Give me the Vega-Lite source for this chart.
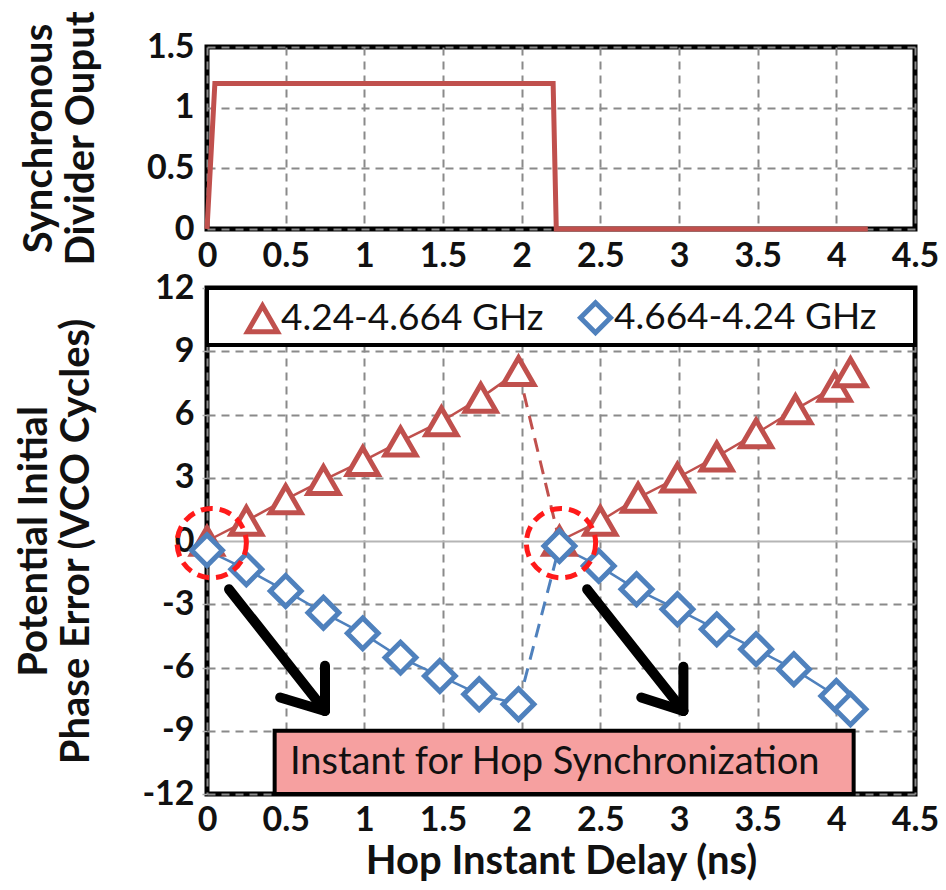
{
  "$schema": "https://vega.github.io/schema/vega-lite/v6.json",
  "background": "white",
  "padding": {"left": 12, "top": 8, "right": 10, "bottom": 5},
  "bounds": "flush",
  "spacing": 59,
  "config": {
    "font": "Lato",
    "view": {"stroke": "black", "strokeWidth": 5},
    "axis": {
      "labelFont": "Lato", "labelFontSize": 34, "labelFontWeight": "bold", "labelColor": "#111",
      "titleFont": "Lato", "titleFontSize": 40, "titleFontWeight": "bold", "titleColor": "#111",
      "domain": false, "gridColor": "#8a8a8a", "gridWidth": 2, "gridDash": [8, 6],
      "tickColor": "#aaa", "tickSize": 5, "tickWidth": 1.5, "labelFlush": false
    },
    "legend": {
      "orient": "none", "legendX": 37, "legendY": 252, "direction": "horizontal",
      "labelFont": "Lato", "labelFontSize": 37, "labelColor": "#111", "labelLimit": 0,
      "symbolSize": 900, "symbolStrokeWidth": 5, "symbolFillColor": "white",
      "columnPadding": 26, "labelOffset": 0
    }
  },
  "datasets": {
    "divider": [
      {"i": 0, "t": 0, "v": 0},
      {"i": 1, "t": 0.05, "v": 1.2},
      {"i": 2, "t": 2.2, "v": 1.2},
      {"i": 3, "t": 2.22, "v": 0},
      {"i": 4, "t": 4.2, "v": 0}
    ],
    "sweep": [
      {"series": "4.24-4.664 GHz", "seg": "first", "x": 0, "y": 0},
      {"series": "4.24-4.664 GHz", "seg": "first", "x": 0.25, "y": 0.95},
      {"series": "4.24-4.664 GHz", "seg": "first", "x": 0.5, "y": 1.97},
      {"series": "4.24-4.664 GHz", "seg": "first", "x": 0.74, "y": 2.89},
      {"series": "4.24-4.664 GHz", "seg": "first", "x": 0.99, "y": 3.79},
      {"series": "4.24-4.664 GHz", "seg": "first", "x": 1.23, "y": 4.71},
      {"series": "4.24-4.664 GHz", "seg": "first", "x": 1.49, "y": 5.67},
      {"series": "4.24-4.664 GHz", "seg": "first", "x": 1.74, "y": 6.79},
      {"series": "4.24-4.664 GHz", "seg": "first", "x": 1.98, "y": 8.06},
      {"series": "4.24-4.664 GHz", "seg": "second", "x": 2.24, "y": 0},
      {"series": "4.24-4.664 GHz", "seg": "second", "x": 2.5, "y": 0.95},
      {"series": "4.24-4.664 GHz", "seg": "second", "x": 2.74, "y": 2.05},
      {"series": "4.24-4.664 GHz", "seg": "second", "x": 2.99, "y": 3.0},
      {"series": "4.24-4.664 GHz", "seg": "second", "x": 3.24, "y": 4.0},
      {"series": "4.24-4.664 GHz", "seg": "second", "x": 3.49, "y": 5.1},
      {"series": "4.24-4.664 GHz", "seg": "second", "x": 3.74, "y": 6.24},
      {"series": "4.24-4.664 GHz", "seg": "second", "x": 3.99, "y": 7.31},
      {"series": "4.24-4.664 GHz", "seg": "second", "x": 4.09, "y": 8.0},
      {"series": "4.664-4.24 GHz", "seg": "first", "x": 0, "y": -0.44},
      {"series": "4.664-4.24 GHz", "seg": "first", "x": 0.25, "y": -1.34},
      {"series": "4.664-4.24 GHz", "seg": "first", "x": 0.5, "y": -2.37},
      {"series": "4.664-4.24 GHz", "seg": "first", "x": 0.74, "y": -3.4},
      {"series": "4.664-4.24 GHz", "seg": "first", "x": 0.99, "y": -4.38},
      {"series": "4.664-4.24 GHz", "seg": "first", "x": 1.23, "y": -5.53},
      {"series": "4.664-4.24 GHz", "seg": "first", "x": 1.48, "y": -6.4},
      {"series": "4.664-4.24 GHz", "seg": "first", "x": 1.73, "y": -7.27},
      {"series": "4.664-4.24 GHz", "seg": "first", "x": 1.98, "y": -7.74},
      {"series": "4.664-4.24 GHz", "seg": "second", "x": 2.24, "y": -0.24},
      {"series": "4.664-4.24 GHz", "seg": "second", "x": 2.49, "y": -1.18},
      {"series": "4.664-4.24 GHz", "seg": "second", "x": 2.73, "y": -2.29},
      {"series": "4.664-4.24 GHz", "seg": "second", "x": 2.99, "y": -3.24},
      {"series": "4.664-4.24 GHz", "seg": "second", "x": 3.24, "y": -4.19},
      {"series": "4.664-4.24 GHz", "seg": "second", "x": 3.49, "y": -5.13},
      {"series": "4.664-4.24 GHz", "seg": "second", "x": 3.73, "y": -6.08},
      {"series": "4.664-4.24 GHz", "seg": "second", "x": 4.0, "y": -7.35},
      {"series": "4.664-4.24 GHz", "seg": "second", "x": 4.09, "y": -7.98}
    ],
    "transition": [
      {"series": "4.24-4.664 GHz", "x": 1.98, "y": 8.06},
      {"series": "4.24-4.664 GHz", "x": 2.24, "y": 0},
      {"series": "4.664-4.24 GHz", "x": 1.98, "y": -7.74},
      {"series": "4.664-4.24 GHz", "x": 2.24, "y": -0.24}
    ],
    "sync": [
      {"x": 0.03, "y": -0.1},
      {"x": 2.25, "y": -0.1}
    ],
    "arrows": [
      {"x": 0.14, "y": -2.29, "x2": 0.75, "y2": -8.06},
      {"x": 0.75, "y": -5.92, "x2": 0.75, "y2": -8.06},
      {"x": 0.465, "y": -7.42, "x2": 0.75, "y2": -8.06},
      {"x": 2.416, "y": -2.29, "x2": 3.028, "y2": -8.06},
      {"x": 3.028, "y": -5.97, "x2": 3.028, "y2": -8.06},
      {"x": 2.76, "y": -7.42, "x2": 3.028, "y2": -8.06}
    ],
    "legendbox": [{"x": 0, "x2": 4.5, "y": 9.3, "y2": 12}],
    "hopbox": [{"x": 0.43, "x2": 4.11, "y": -12, "y2": -9}],
    "hoplabel": [{"x": 2.21, "y": -10.55, "label": "Instant for Hop Synchronization"}]
  },
  "vconcat": [
    {
      "width": 708,
      "height": 182,
      "data": {"name": "divider"},
      "mark": {"type": "line", "color": "#c0504d", "strokeWidth": 5, "clip": false},
      "encoding": {
        "x": {"field": "t", "type": "quantitative",
              "scale": {"domain": [0, 4.5], "nice": false, "zero": false},
              "axis": {"values": [0, 0.5, 1, 1.5, 2, 2.5, 3, 3.5, 4, 4.5], "format": "~g", "title": null, "ticks": false, "labelPadding": 10}},
        "y": {"field": "v", "type": "quantitative",
              "scale": {"domain": [0, 1.5], "nice": false},
              "axis": {"values": [0, 0.5, 1, 1.5], "format": "~g", "title": ["Synchronous", "Divider Ouput"], "titlePadding": 45, "titleLineHeight": 42, "labelPadding": 13, "ticks": false}},
        "order": {"field": "i", "type": "quantitative"}
      }
    },
    {
      "width": 708,
      "height": 506,
      "encoding": {
        "x": {"field": "x", "type": "quantitative",
              "scale": {"domain": [0, 4.5], "nice": false, "zero": false},
              "axis": {"values": [0, 0.5, 1, 1.5, 2, 2.5, 3, 3.5, 4, 4.5], "format": "~g", "title": "Hop Instant Delay (ns)", "ticks": false, "labelPadding": 9, "titlePadding": 4}},
        "y": {"field": "y", "type": "quantitative",
              "scale": {"domain": [-12, 12], "nice": false, "zero": false},
              "axis": {"values": [-12, -9, -6, -3, 0, 3, 6, 9, 12], "labelExpr": "datum.value + ''",
                       "title": ["Potential Initial", "Phase Error (VCO Cycles)"], "titlePadding": 45, "titleLineHeight": 42, "labelPadding": 8,
                       "gridDash": {"condition": {"test": "datum.value === 0", "value": [1, 0]}, "value": [8, 6]},
                       "gridColor": {"condition": {"test": "datum.value === 0", "value": "#b5b5b5"}, "value": "#8a8a8a"}}}
      },
      "layer": [
        {
          "data": {"name": "legendbox"},
          "mark": {"type": "rect", "fill": "white", "stroke": "black", "strokeWidth": 4},
          "encoding": {"x2": {"field": "x2"}, "y2": {"field": "y2"}}
        },
        {
          "data": {"name": "transition"},
          "mark": {"type": "line", "strokeWidth": 3, "strokeDash": [14, 9]},
          "encoding": {
            "color": {"condition": {"test": "datum.series === '4.24-4.664 GHz'", "value": "#c0504d"}, "value": "#4f81bd"},
            "detail": {"field": "series", "type": "nominal"}
          }
        },
        {
          "data": {"name": "sweep"},
          "mark": {"type": "line", "strokeWidth": 2.5},
          "encoding": {
            "color": {"condition": {"test": "datum.series === '4.24-4.664 GHz'", "value": "#c0504d"}, "value": "#4f81bd"},
            "detail": [{"field": "series", "type": "nominal"}, {"field": "seg", "type": "nominal"}]
          }
        },
        {
          "data": {"name": "sweep"},
          "mark": {"type": "point", "filled": false, "fill": "white", "strokeWidth": 5, "size": 950, "opacity": 1},
          "encoding": {
            "color": {"field": "series", "type": "nominal", "scale": {"domain": ["4.24-4.664 GHz", "4.664-4.24 GHz"], "range": ["#c0504d", "#4f81bd"]}, "legend": {"title": null}},
            "shape": {"field": "series", "type": "nominal", "scale": {"domain": ["4.24-4.664 GHz", "4.664-4.24 GHz"], "range": ["triangle-up", "diamond"]}, "legend": {"title": null}}
          }
        },
        {
          "data": {"name": "sync"},
          "mark": {"type": "point", "shape": "circle", "filled": false, "size": 4800, "stroke": "#ff1a1a", "strokeWidth": 5, "strokeDash": [12, 7], "opacity": 1}
        },
        {
          "data": {"name": "arrows"},
          "mark": {"type": "rule", "color": "black", "strokeWidth": 10, "strokeCap": "round"},
          "encoding": {"x2": {"field": "x2"}, "y2": {"field": "y2"}}
        },
        {
          "data": {"name": "hopbox"},
          "mark": {"type": "rect", "fill": "#f6a0a0", "stroke": "black", "strokeWidth": 4},
          "encoding": {"x2": {"field": "x2"}, "y2": {"field": "y2"}}
        },
        {
          "data": {"name": "hoplabel"},
          "mark": {"type": "text", "font": "Lato", "fontSize": 38, "color": "#111", "align": "center", "baseline": "middle"},
          "encoding": {"text": {"field": "label"}}
        }
      ]
    }
  ]
}
